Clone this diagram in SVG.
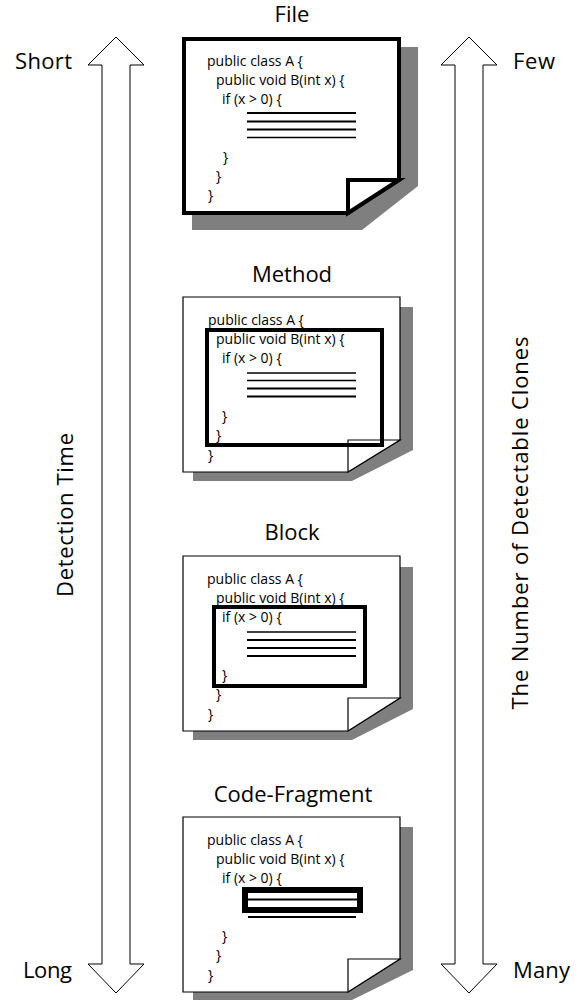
<svg xmlns="http://www.w3.org/2000/svg" width="582" height="1001" viewBox="0 0 582 1001">
  <style>
    .lbl { font-family: "Open Sans", "Liberation Sans", sans-serif; font-size: 22px; fill: #000; }
    .code { font-family: "Open Sans", "Liberation Sans", sans-serif; font-size: 14px; fill: #000; }
    .arrow { fill: #fff; stroke: #000; stroke-width: 1; stroke-linejoin: miter; }
    .shadow { fill: #7f7f7f; }
    .page { fill: #fff; stroke: #000; stroke-width: 1.2; stroke-linejoin: miter; }
    .page-bold { fill: #fff; stroke: #000; stroke-width: 4; stroke-linejoin: miter; }
    .stmt { stroke: #000; fill: none; }
    .scope { fill: none; stroke: #000; stroke-width: 4; }
    .scope-bold { fill: none; stroke: #000; stroke-width: 5.5; }
  </style>

  <!-- scale arrows -->
  <g id="connectors">
    <polygon class="arrow" points="116,37 144,65 130,65 130,964 144,964 116,993 88,964 102,964 102,65 88,65"/>
    <polygon class="arrow" points="469,37 497,65 483,65 483,964 497,964 469,993 441,964 455,964 455,65 441,65"/>
  </g>

  <g id="scale-labels">
    <text class="lbl" x="15" y="69" font-size="23" textLength="57">Short</text>
    <text class="lbl" x="23" y="978" font-size="23" textLength="49">Long</text>
    <text class="lbl" x="513" y="69" font-size="23" textLength="42">Few</text>
    <text class="lbl" x="513" y="978" font-size="23" textLength="57">Many</text>
    <text class="lbl" font-size="23" text-anchor="middle" transform="translate(73,515) rotate(-90)" textLength="164">Detection Time</text>
    <text class="lbl" font-size="23" text-anchor="middle" transform="translate(528,523) rotate(-90)" textLength="373">The Number of Detectable Clones</text>
  </g>

  <!-- File granularity: whole page highlighted -->
  <g id="file">
    <text class="lbl" x="292" y="22" text-anchor="middle">File</text>
    <polygon class="shadow" points="192,47 418,47 418,186 362,230 192,230"/>
    <path class="page-bold" d="M184,39 H399 V180 L348,213 H184 Z"/>
    <path class="page-bold" d="M348,213 V180 H399 Z"/>
    <text class="code" x="207" y="66">public class A {</text>
    <text class="code" x="216" y="85">public void B(int x) {</text>
    <text class="code" x="222" y="104">if (x &gt; 0) {</text>
    <text class="code" x="223" y="162">}</text>
    <text class="code" x="216" y="181">}</text>
    <text class="code" x="208" y="200">}</text>
    <line class="stmt" x1="247" y1="113" x2="356" y2="113" stroke-width="2"/>
    <line class="stmt" x1="247" y1="121.5" x2="356" y2="121.5" stroke-width="2"/>
    <line class="stmt" x1="247" y1="129.5" x2="356" y2="129.5" stroke-width="2"/>
    <line class="stmt" x1="247" y1="137.5" x2="356" y2="137.5" stroke-width="1.5"/>
  </g>

  <!-- Method granularity -->
  <g id="method">
    <text class="lbl" x="292" y="282" text-anchor="middle">Method</text>
    <polygon class="shadow" points="193,307 413,307 413,450 352,481 193,481"/>
    <path class="page" d="M183,297 H400 V440 L348,472 H183 Z"/>
    <path class="page" d="M348,472 V440 H400 Z"/>
    <text class="code" x="208" y="325">public class A {</text>
    <text class="code" x="216" y="344">public void B(int x) {</text>
    <text class="code" x="222" y="363">if (x &gt; 0) {</text>
    <text class="code" x="222" y="421">}</text>
    <text class="code" x="216" y="440">}</text>
    <text class="code" x="208" y="460">}</text>
    <line class="stmt" x1="247" y1="373" x2="356" y2="373" stroke-width="1.5"/>
    <line class="stmt" x1="247" y1="380.5" x2="356" y2="380.5" stroke-width="1.5"/>
    <line class="stmt" x1="247" y1="388.5" x2="356" y2="388.5" stroke-width="2"/>
    <line class="stmt" x1="247" y1="396.5" x2="356" y2="396.5" stroke-width="2"/>
    <rect class="scope" x="207" y="330" width="175" height="115"/>
  </g>

  <!-- Block granularity -->
  <g id="block">
    <text class="lbl" x="292" y="540" text-anchor="middle">Block</text>
    <polygon class="shadow" points="193,567 413,567 413,709 352,740 193,740"/>
    <path class="page" d="M183,556 H400 V698 L348,731 H183 Z"/>
    <path class="page" d="M348,731 V698 H400 Z"/>
    <text class="code" x="207" y="584">public class A {</text>
    <text class="code" x="216" y="603">public void B(int x) {</text>
    <text class="code" x="222" y="622">if (x &gt; 0) {</text>
    <text class="code" x="222" y="680">}</text>
    <text class="code" x="216" y="699">}</text>
    <text class="code" x="208" y="719">}</text>
    <line class="stmt" x1="247" y1="632" x2="356" y2="632" stroke-width="1.5"/>
    <line class="stmt" x1="247" y1="640" x2="356" y2="640" stroke-width="2"/>
    <line class="stmt" x1="247" y1="648" x2="356" y2="648" stroke-width="2"/>
    <line class="stmt" x1="247" y1="656" x2="356" y2="656" stroke-width="2"/>
    <rect class="scope" x="214" y="607" width="151" height="79"/>
  </g>

  <!-- Code-fragment granularity -->
  <g id="code-fragment">
    <text class="lbl" x="293" y="802" text-anchor="middle">Code-Fragment</text>
    <polygon class="shadow" points="193,827 413,827 413,970 352,1000 193,1000"/>
    <path class="page" d="M183,817 H400 V959 L348,992 H183 Z"/>
    <path class="page" d="M348,992 V959 H400 Z"/>
    <text class="code" x="207" y="845">public class A {</text>
    <text class="code" x="216" y="864">public void B(int x) {</text>
    <text class="code" x="222" y="883">if (x &gt; 0) {</text>
    <text class="code" x="222" y="941">}</text>
    <text class="code" x="216" y="960">}</text>
    <text class="code" x="208" y="980">}</text>
    <rect class="scope-bold" x="244.75" y="889.75" width="115.5" height="20.5"/>
    <rect x="247.5" y="892.5" width="110" height="15" fill="none" stroke="#000" stroke-width="1"/>
    <line class="stmt" x1="247" y1="899.5" x2="357" y2="899.5" stroke-width="2"/>
    <line class="stmt" x1="248" y1="917" x2="356" y2="917" stroke-width="2"/>
  </g>
</svg>
